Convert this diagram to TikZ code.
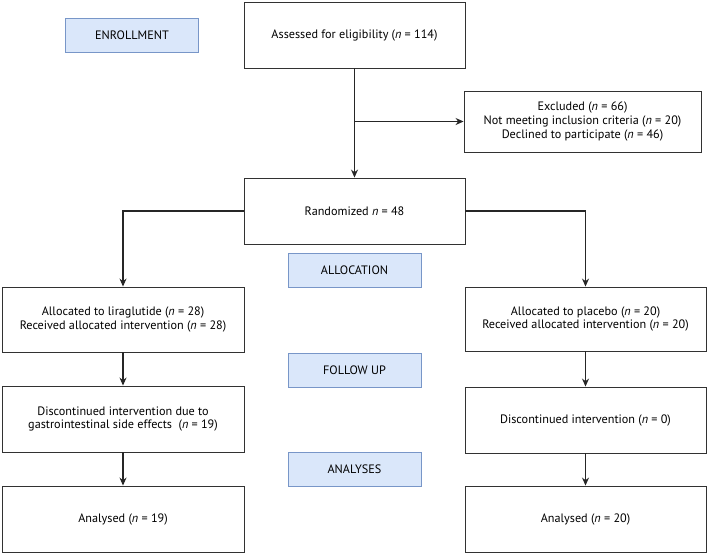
\documentclass[tikz,border=0pt]{standalone}
\usepackage{fontspec}
\setmainfont{PT Sans}
\usetikzlibrary{arrows.meta,positioning}
\definecolor{stagefill}{RGB}{218,231,250}
\definecolor{stageline}{RGB}{120,150,200}
\definecolor{boxline}{RGB}{50,50,50}
\newcommand{\nn}{\textit{n}}
\begin{document}
\begin{tikzpicture}[x=1pt, y=-1pt, font=\fontsize{12.2}{13.6}\selectfont,
    main box/.style={draw=boxline, line width=0.9pt, align=center, inner sep=0pt, minimum width=221pt, minimum height=66pt},
    side box/.style={main box, minimum width=242pt, minimum height=65pt},
    stage box/.style={draw=stageline, fill=stagefill, line width=0.9pt, inner sep=0pt, minimum width=133pt, minimum height=34pt},
    flow/.style={line width=1.1pt, draw=black!85, -{Stealth[length=8pt, width=7pt]}}]

    \useasboundingbox (0,0) rectangle (709,554);

    % Enrollment
    \node[stage box] (enroll) at (132,35) {ENROLLMENT};
    \node[main box] (assess) at (354.5,35) {Assessed for eligibility (\nn{} = 114)};
    \node[main box, minimum width=237pt, minimum height=61pt] (excl) at (582.5,121.5)
        {Excluded (\nn{} = 66)\\Not meeting inclusion criteria (\nn{} = 20)\\Declined to participate (\nn{} = 46)};
    \node[main box] (rand) at (354.5,211) {Randomized \nn{} = 48};

    % Stage labels in the middle
    \node[stage box] (alloc) at (354.5,270) {ALLOCATION};
    \node[stage box] (follow) at (354.5,370) {FOLLOW UP};
    \node[stage box] (analyses) at (354.5,469.5) {ANALYSES};

    % Liraglutide arm
    \node[side box] (lira) at (123,319.5) {Allocated to liraglutide (\nn{} = 28)\\Received allocated intervention (\nn{} = 28)};
    \node[side box, minimum height=66pt] (discL) at (123,419) {Discontinued intervention due to\\gastrointestinal side effects~~(\nn{} = 19)};
    \node[side box, minimum height=66pt] (anaL) at (123,519) {Analysed (\nn{} = 19)};

    % Placebo arm
    \node[side box, minimum width=241pt, minimum height=64pt] (plac) at (585.5,319) {Allocated to placebo (\nn{} = 20)\\Received allocated intervention (\nn{} = 20)};
    \node[side box, minimum width=241pt, minimum height=66pt] (discR) at (585.5,420) {Discontinued intervention (\nn{} = 0)};
    \node[side box, minimum width=241pt, minimum height=66pt] (anaR) at (585.5,519) {Analysed (\nn{} = 20)};

    \coordinate (split) at (assess.south |- excl.west);

    \draw[flow] (assess) -- (rand);
    \draw[flow] (split) -- (excl.west);
    \draw[flow] (rand.west) -| (lira.north);
    \draw[flow] (rand.east) -| (plac.north);
    \draw[flow] (lira) -- (discL);
    \draw[flow] (discL) -- (anaL);
    \draw[flow] (plac) -- (discR);
    \draw[flow] (discR) -- (anaR);

\end{tikzpicture}
\end{document}
